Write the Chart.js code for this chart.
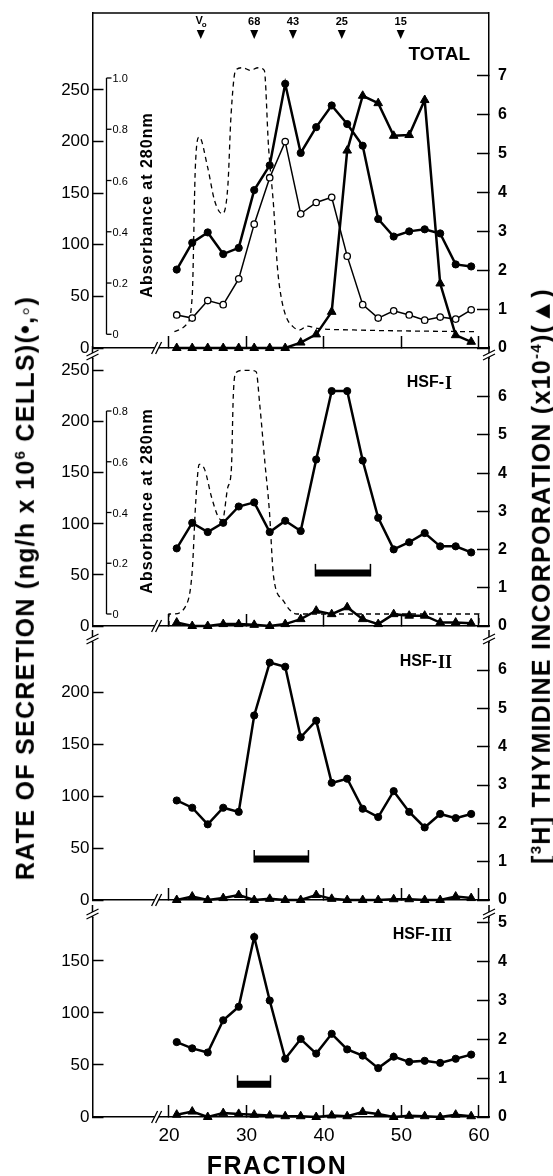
<!DOCTYPE html>
<html>
<head>
<meta charset="utf-8">
<title>HSF fractions</title>
<script src="https://cdn.jsdelivr.net/npm/chart.js@4.4.1/dist/chart.umd.min.js"></script>
<style>
  html, body { margin: 0; padding: 0; background: #fff; }
  #page { position: relative; width: 553px; height: 1176px; overflow: hidden; font-family: "Liberation Sans", Arial, sans-serif; color: #000; }
  #page canvas { position: absolute; left: 0; }
  .side { position: absolute; font-weight: bold; font-size: 25px; letter-spacing: 1.3px; white-space: nowrap; line-height: 1; transform: translate(-50%, -50%) rotate(-90deg); }
  .side sup { font-size: 15px; }
  #fraction { position: absolute; left: 277px; top: 1165px; transform: translate(-50%, -50%); font-weight: bold; font-size: 25px; letter-spacing: 1.4px; line-height: 1; }
</style>
</head>
<body>
<div id="page">
  <canvas id="c1" width="553" height="362" style="top:0px"></canvas>
  <canvas id="c2" width="553" height="292" style="top:346px"></canvas>
  <canvas id="c3" width="553" height="282" style="top:630px"></canvas>
  <canvas id="c4" width="553" height="271" style="top:905px"></canvas>
  <div class="side" style="left:25px; top:588px">RATE OF SECRETION (ng/h x 10<sup>6</sup> CELLS)(•,◦)</div>
  <div class="side" style="left:541px; top:576px">[<sup>3</sup>H] THYMIDINE INCORPORATION (x10<sup>-4</sup>)(▲)</div>
  <div id="fraction">FRACTION</div>
</div>
<script>
// fractions collected (every other tube)
const fractions = [21,23,25,27,29,31,33,35,37,39,41,43,45,47,49,51,53,55,57,59];
const xTicks = [20,30,40,50,60];

// TOTAL
const totalFilled = [76,102,112,91,97,153,177,256,189,214,235,217,196,125,108,113,115,111,81,79];
const totalOpen = [32,29,46,42,67,120,165,200,130,141,146,89,42,29,36,32,27,30,28,37];
const totalThymidine = [0,0,0,0,0,0,0,0,0.14,0.35,0.93,5.08,6.49,6.30,5.46,5.48,6.38,1.66,0.33,0.16];
const totalAbsX = [20.7,22.3,23.0,23.4,23.9,25.0,25.9,26.9,27.6,28.0,28.6,29.5,30.5,31.5,32.3,32.85,33.5,34.0,34.45,35.1,36.0,36.9,37.8,39.2,43.8,59.5];
const totalAbsY = [0.01,0.04,0.15,0.65,0.77,0.65,0.52,0.47,0.58,0.85,1.03,1.04,1.03,1.04,1.03,0.73,0.50,0.26,0.15,0.07,0.03,0.017,0.032,0.023,0.017,0.01];

// HSF-I
const hsf1Filled = [76,101,92,101,117,121,92,103,93,163,230,230,162,106,75,82,91,78,78,72];
const hsf1Thymidine = [0.09,0,0,0.05,0.05,0.03,0,0.05,0.18,0.40,0.31,0.49,0.18,0.05,0.31,0.27,0.27,0.09,0.09,0.07];
const hsf1AbsX = [20,20,20.5,22.3,23.0,23.45,23.9,24.6,25.5,26.4,26.9,27.6,28.05,28.3,28.6,29.5,30.5,31.25,31.7,32.4,32.95,33.5,34.7,35.6,36.5,60,60];
const hsf1AbsY = [-0.047,0,0,0.04,0.17,0.44,0.59,0.57,0.46,0.38,0.37,0.50,0.57,0.86,0.95,0.96,0.96,0.955,0.83,0.59,0.41,0.147,0.055,0.016,0,0,-0.047];

// HSF-II
const hsf2Filled = [96,89,73,89,85,178,229,225,157,173,113,117,88,80,105,85,70,83,79,83];
const hsf2Thymidine = [0,0.09,0,0.05,0.13,0,0.03,0,0,0.13,0.03,0,0,0,0.02,0.02,0,0,0.09,0.05];

// HSF-III
const hsf3Filled = [72,66,62,93,106,173,112,56,75,61,80,65,59,47,58,53,54,52,56,60];
const hsf3Thymidine = [0.06,0.14,0,0.1,0.08,0.06,0.04,0.02,0.02,0,0.04,0.02,0.13,0.08,0,0.03,0.02,0,0.06,0.02];

// pooled fractions (HSF-I, HSF-II, HSF-III)
const poolStart = [38.9, 31.0, 28.85];
const poolEnd = [46.0, 38.0, 33.1];
const poolLevel = [52, 39.5, 31.5];

// molecular weight markers
const markerLabels = ['Vo','68','43','25','15'];
const markerFractions = [24.1, 31.0, 36.0, 42.3, 49.9];

const secretionTicks = [[0,50,100,150,200,250],[0,50,100,150,200,250],[0,50,100,150,200],[0,50,100,150]];
const thymidineTicks = [[0,1,2,3,4,5,6,7],[0,1,2,3,4,5,6],[0,1,2,3,4,5,6],[0,1,2,3,4,5]];
const absTicks = [[0,0.2,0.4,0.6,0.8,1.0],[0,0.2,0.4,0.6,0.8]];

const FONT = '"Liberation Sans", Arial, sans-serif';
const SERIF = '"Liberation Serif", "DejaVu Serif", serif';
const X_MIN = 10.13, X_MAX = 61.3, X_BREAK = 18.4, ABS_AXIS_AT = 11.9;

const panels = [
  { canvas: 'c1', padTop: 13, xHeight: 14, yMax: 324.6, y2Max: 8.62, absMin: -0.0535, absMax: 1.2536,
    filled: totalFilled, open: totalOpen, thym: totalThymidine, absX: totalAbsX, absY: totalAbsY,
    absTicks: absTicks[0], absTitleY: 205, title: 'TOTAL', num: '', titleRight: 470, titleY: 55,
    frameTop: true, markers: true, pool: -1, showX: false, breakTop: false },
  { canvas: 'c2', padTop: 13, xHeight: 12, yMax: 261.4, y2Max: 6.986, absMin: -0.0473, absMax: 1.005,
    filled: hsf1Filled, thym: hsf1Thymidine, absX: hsf1AbsX, absY: hsf1AbsY,
    absTicks: absTicks[1], absTitleY: 155, title: 'HSF-', num: 'I', titleRight: 452, titleY: 37,
    pool: 0, showX: false, breakTop: true },
  { canvas: 'c3', padTop: 13, xHeight: 12, yMax: 247.9, y2Max: 6.705,
    filled: hsf2Filled, thym: hsf2Thymidine, title: 'HSF-', num: 'II', titleRight: 452, titleY: 32,
    pool: 1, showX: false, breakTop: true },
  { canvas: 'c4', padTop: 13, xHeight: 59, yMax: 191.3, y2Max: 5.125,
    filled: hsf3Filled, thym: hsf3Thymidine, title: 'HSF-', num: 'III', titleRight: 452, titleY: 30,
    pool: 2, showX: true, breakTop: true }
];

function pts(xs, ys) { return xs.map((x, i) => ({ x: x, y: ys[i] })); }

// no extra room around the axes: the chart area is fixed by the widths/heights below
function noPad(s) { s.paddingTop = 0; s.paddingBottom = 0; s.paddingLeft = 0; s.paddingRight = 0; }

function breakV(ctx, x, y) {
  ctx.save();
  ctx.fillStyle = '#fff';
  ctx.fillRect(x - 3, y - 2, 6, 4);
  ctx.strokeStyle = '#000'; ctx.lineWidth = 1.3;
  ctx.beginPath();
  ctx.moveTo(x - 6, y + 1); ctx.lineTo(x + 6, y - 5);
  ctx.moveTo(x - 6, y + 5); ctx.lineTo(x + 6, y - 1);
  ctx.stroke();
  ctx.restore();
}

function breakH(ctx, x, y) {
  ctx.save();
  ctx.fillStyle = '#fff';
  ctx.fillRect(x - 2, y - 2, 4, 4);
  ctx.strokeStyle = '#000'; ctx.lineWidth = 1.3;
  ctx.beginPath();
  ctx.moveTo(x - 5, y + 6); ctx.lineTo(x + 1, y - 6);
  ctx.moveTo(x - 1, y + 6); ctx.lineTo(x + 5, y - 6);
  ctx.stroke();
  ctx.restore();
}

function decorFor(p, idx) {
  return {
    id: 'decor' + idx,
    afterDraw(chart) {
      const ctx = chart.ctx, a = chart.chartArea, xs = chart.scales.x;
      ctx.save();
      ctx.strokeStyle = '#000'; ctx.fillStyle = '#000'; ctx.lineWidth = 1.5;

      if (p.frameTop) {
        ctx.beginPath(); ctx.moveTo(a.left, a.top); ctx.lineTo(a.right, a.top); ctx.stroke();
      }
      if (p.breakTop) {
        ctx.beginPath();
        ctx.moveTo(a.left, a.top - 13); ctx.lineTo(a.left, a.top);
        ctx.moveTo(a.right, a.top - 13); ctx.lineTo(a.right, a.top);
        ctx.stroke();
        breakV(ctx, a.left, a.top - 4);
        breakV(ctx, a.right, a.top - 4);
      }
      breakH(ctx, xs.getPixelForValue(X_BREAK), a.bottom);

      // inner absorbance axis
      if (p.absTicks) {
        const s = chart.scales.abs;
        const t = p.absTicks;
        const ax = Math.round(xs.getPixelForValue(ABS_AXIS_AT)) + 0.5;
        ctx.lineWidth = 1.3;
        ctx.beginPath();
        ctx.moveTo(ax, s.getPixelForValue(t[t.length - 1]));
        ctx.lineTo(ax, s.getPixelForValue(t[0]));
        ctx.stroke();
        ctx.font = '11px ' + FONT;
        ctx.textAlign = 'left'; ctx.textBaseline = 'middle';
        t.forEach(v => {
          const y = s.getPixelForValue(v);
          ctx.beginPath(); ctx.moveTo(ax, y); ctx.lineTo(ax + 5, y); ctx.stroke();
          ctx.fillText(v === 0 ? '0' : v.toFixed(1), ax + 6, y + 1);
        });
        ctx.save();
        ctx.translate(ax + 41, p.absTitleY);
        ctx.rotate(-Math.PI / 2);
        ctx.font = 'bold 16px ' + FONT;
        ctx.letterSpacing = '1px';
        ctx.textAlign = 'center'; ctx.textBaseline = 'middle';
        ctx.fillText('Absorbance at 280nm', 0, 0);
        ctx.restore();
      }

      // panel title
      ctx.textAlign = 'right'; ctx.textBaseline = 'middle';
      if (p.num) {
        ctx.font = 'bold 18px ' + SERIF;
        const w = ctx.measureText(p.num).width;
        ctx.fillText(p.num, p.titleRight, p.titleY + 1);
        ctx.font = 'bold 16px ' + FONT;
        ctx.fillText(p.title, p.titleRight - w - 1, p.titleY);
      } else {
        ctx.font = 'bold 19px ' + FONT;
        ctx.fillText(p.title, p.titleRight, p.titleY);
      }

      // size markers on top
      if (p.markers) {
        markerLabels.forEach((lab, i) => {
          const mx = xs.getPixelForValue(markerFractions[i]);
          ctx.font = 'bold 11px ' + FONT;
          ctx.textBaseline = 'middle';
          if (lab === 'Vo') {
            ctx.textAlign = 'right';
            ctx.fillText('V', mx + 2, a.top + 8);
            ctx.font = 'bold 8px ' + FONT;
            ctx.textAlign = 'left';
            ctx.fillText('o', mx + 1, a.top + 12);
          } else {
            ctx.textAlign = 'center';
            ctx.fillText(lab, mx, a.top + 9);
          }
          ctx.beginPath();
          ctx.moveTo(mx - 4, a.top + 17); ctx.lineTo(mx + 4, a.top + 17); ctx.lineTo(mx, a.top + 26);
          ctx.closePath(); ctx.fill();
        });
      }

      // caps of the pooled-fraction bar
      if (p.pool >= 0) {
        const yb = chart.scales.y.getPixelForValue(poolLevel[p.pool]);
        ctx.lineWidth = 1.5;
        [poolStart[p.pool], poolEnd[p.pool]].forEach(f => {
          const px = xs.getPixelForValue(f);
          ctx.beginPath(); ctx.moveTo(px, yb + 3.5); ctx.lineTo(px, yb - 9); ctx.stroke();
        });
      }
      ctx.restore();
    }
  };
}

panels.forEach((p, idx) => {
  const datasets = [];
  datasets.push({ data: pts(fractions, p.filled), yAxisID: 'y', borderColor: '#000', backgroundColor: '#000',
    borderWidth: 2.5, pointRadius: 3.6, pointBorderWidth: 1 });
  if (p.open) {
    datasets.push({ data: pts(fractions, p.open), yAxisID: 'y', borderColor: '#000', backgroundColor: '#fff',
      borderWidth: 1.5, pointRadius: 3.2, pointBorderWidth: 1.3 });
  }
  datasets.push({ data: pts(fractions, p.thym), yAxisID: 'y2', borderColor: '#000', backgroundColor: '#000',
    borderWidth: 2.5, pointStyle: 'triangle', pointRadius: 5, pointBorderWidth: 1 });
  if (p.pool >= 0) {
    const k = p.pool;
    datasets.push({ data: [{ x: poolStart[k], y: poolLevel[k] }, { x: poolEnd[k], y: poolLevel[k] }], yAxisID: 'y',
      borderColor: '#000', borderWidth: 7, pointRadius: 0, borderCapStyle: 'butt' });
  }
  if (p.absX) {
    datasets.push({ data: pts(p.absX, p.absY), yAxisID: 'abs', borderColor: '#000', borderWidth: 1.3,
      borderDash: [5, 4], pointRadius: 0, cubicInterpolationMode: 'monotone' });
  }
  datasets.forEach(d => { d.clip = false; d.fill = false; d.tension = 0; });

  const scales = {
    x: {
      type: 'linear', position: 'bottom', min: X_MIN, max: X_MAX,
      afterBuildTicks: s => { s.ticks = xTicks.map(v => ({ value: v })); },
      afterFit: s => { s.height = p.xHeight; noPad(s); },
      grid: { drawOnChartArea: false, tickLength: -12, tickWidth: 1.5, tickColor: '#000' },
      border: { color: '#000', width: 1.5 },
      ticks: { display: p.showX, color: '#000', padding: 19, autoSkip: false, maxRotation: 0,
        font: { family: FONT, size: 19 } }
    },
    y: {
      position: 'left', min: 0, max: p.yMax,
      afterBuildTicks: s => { s.ticks = secretionTicks[idx].map(v => ({ value: v })); },
      afterFit: s => { s.width = 92.5; noPad(s); },
      grid: { drawOnChartArea: false, tickLength: -11, tickWidth: 1.5, tickColor: '#000' },
      border: { color: '#000', width: 1.5 },
      ticks: { color: '#000', padding: 14, font: { family: FONT, size: 17 } }
    },
    y2: {
      position: 'right', min: 0, max: p.y2Max,
      afterBuildTicks: s => { s.ticks = thymidineTicks[idx].map(v => ({ value: v })); },
      afterFit: s => { s.width = 64; noPad(s); },
      grid: { drawOnChartArea: false, tickLength: -12, tickWidth: 1.5, tickColor: '#000' },
      border: { color: '#000', width: 1.5 },
      ticks: { color: '#000', padding: 21, font: { family: FONT, size: 16, weight: 'bold' } }
    }
  };
  if (p.absX) {
    scales.abs = { display: false, min: p.absMin, max: p.absMax };
  }

  new Chart(document.getElementById(p.canvas).getContext('2d'), {
    type: 'line',
    data: { datasets: datasets },
    options: {
      responsive: false,
      animation: false,
      events: [],
      layout: { autoPadding: false, padding: { top: p.padTop, left: 0, right: 0, bottom: 0 } },
      plugins: { legend: { display: false }, tooltip: { enabled: false } },
      scales: scales
    },
    plugins: [decorFor(p, idx)]
  });
});
</script>
</body>
</html>
